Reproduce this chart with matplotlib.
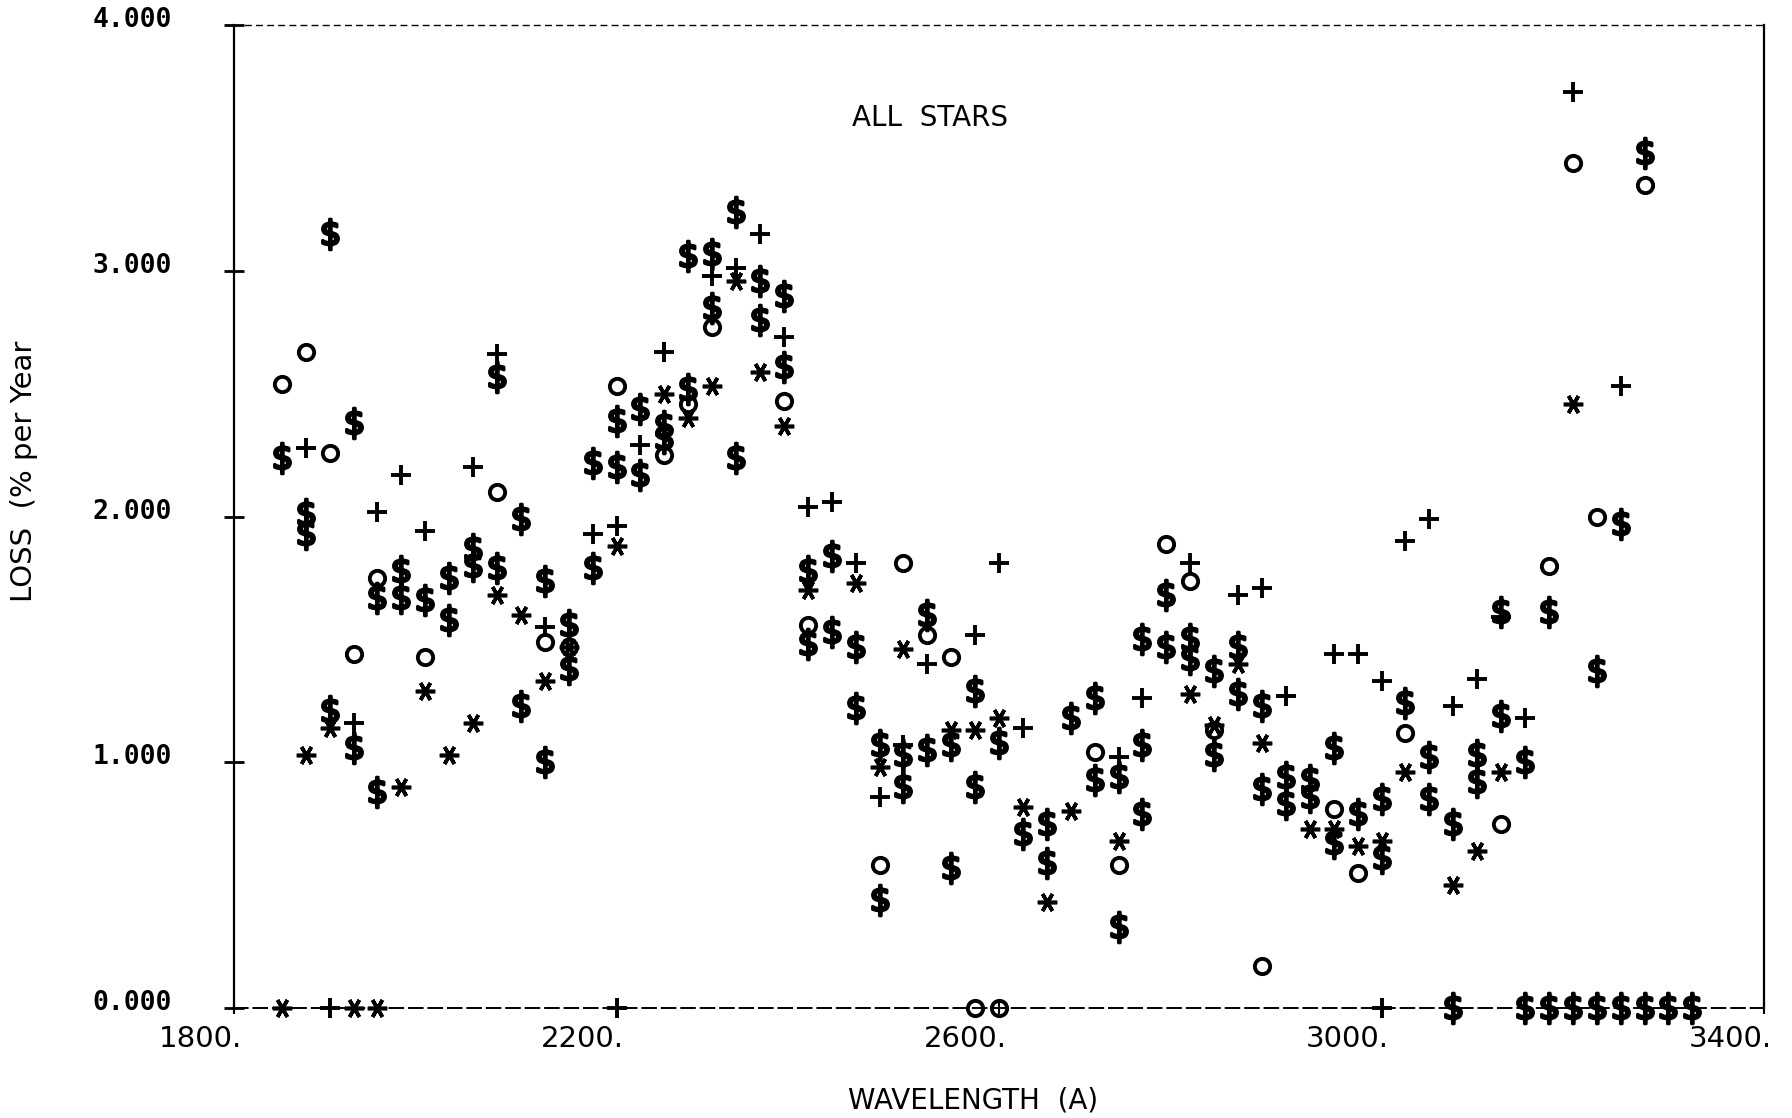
import matplotlib
matplotlib.use("Agg")
import matplotlib.pyplot as plt
from matplotlib.transforms import ScaledTranslation

# wavelength (A) / loss (% per year), one list per symbol
circ_x = [1850, 1875, 1900, 1925, 1950, 2000, 2075, 2125, 2150, 2200, 2250, 2275, 2300,
          2375, 2400, 2475, 2500, 2525, 2550, 2575, 2600, 2700, 2725, 2775, 2800, 2825,
          2875, 2950, 2975, 3025, 3125, 3175, 3200, 3225, 3275]
circ_y = [2.54, 2.67, 2.26, 1.44, 1.75, 1.43, 2.10, 1.49, 1.47, 2.53, 2.25, 2.46, 2.77,
          2.47, 1.56, 0.58, 1.81, 1.52, 1.43, 0.0, 0.0, 1.04, 0.58, 1.89, 1.74, 1.13,
          0.17, 0.81, 0.55, 1.12, 0.75, 1.80, 3.44, 2.00, 3.35]

plus_x = [1875, 1900, 1925, 1950, 1975, 2000, 2050, 2075, 2125, 2175, 2200, 2200, 2225,
          2250, 2300, 2325, 2350, 2375, 2400, 2425, 2450, 2475, 2500, 2525, 2575, 2600,
          2625, 2725, 2750, 2800, 2850, 2875, 2900, 2950, 2975, 3000, 3000, 3025, 3050,
          3075, 3100, 3125, 3150, 3200, 3250]
plus_y = [2.28, 0.0, 1.16, 2.02, 2.17, 1.94, 2.20, 2.66, 1.55, 1.93, 1.96, 0.0, 2.29,
          2.67, 2.98, 3.01, 3.15, 2.73, 2.04, 2.06, 1.81, 0.86, 1.07, 1.40, 1.52, 1.81,
          1.14, 1.02, 1.26, 1.81, 1.68, 1.71, 1.27, 1.44, 1.44, 1.33, 0.0, 1.90, 1.99,
          1.23, 1.34, 1.59, 1.18, 3.73, 2.53]

ast_x = [1850, 1875, 1900, 1925, 1950, 1975, 2000, 2025, 2050, 2075, 2100, 2125, 2150,
         2200, 2250, 2275, 2300, 2325, 2350, 2375, 2400, 2450, 2475, 2500, 2550, 2575,
         2600, 2625, 2650, 2675, 2725, 2800, 2825, 2850, 2875, 2925, 2950, 2975, 3000,
         3025, 3075, 3100, 3125, 3200]
ast_y = [0.0, 1.03, 1.14, 0.0, 0.0, 0.90, 1.29, 1.03, 1.16, 1.68, 1.60, 1.33, 1.47,
         1.88, 2.50, 2.40, 2.53, 2.96, 2.59, 2.37, 1.70, 1.73, 0.98, 1.46, 1.13, 1.13,
         1.18, 0.82, 0.43, 0.80, 0.68, 1.28, 1.15, 1.40, 1.08, 0.73, 0.73, 0.66, 0.68,
         0.96, 0.50, 0.64, 0.96, 2.46]

dol_x = [1850, 1875, 1875, 1900, 1900, 1925, 1925, 1950, 1950, 1975, 1975, 2000, 2025,
         2025, 2050, 2050, 2075, 2075, 2100, 2100, 2125, 2125, 2150, 2150, 2175, 2175,
         2200, 2200, 2225, 2225, 2250, 2250, 2275, 2275, 2300, 2300, 2325, 2325, 2350,
         2350, 2375, 2375, 2400, 2400, 2425, 2425, 2450, 2450, 2475, 2475, 2500, 2500,
         2525, 2525, 2550, 2550, 2575, 2575, 2600, 2625, 2650, 2650, 2675, 2700, 2700,
         2725, 2725, 2750, 2750, 2750, 2775, 2775, 2800, 2800, 2825, 2825, 2850, 2850,
         2875, 2875, 2900, 2900, 2925, 2925, 2950, 2950, 2975, 3000, 3000, 3025, 3050,
         3050, 3075, 3075, 3100, 3100, 3125, 3125, 3150, 3150, 3175, 3175, 3200, 3225,
         3225, 3250, 3250, 3275, 3275, 3300, 3325]
dol_y = [2.24, 2.01, 1.93, 3.15, 1.21, 2.38, 1.06, 1.67, 0.88, 1.78, 1.67, 1.66, 1.75,
         1.58, 1.87, 1.80, 2.57, 1.79, 1.99, 1.23, 1.74, 1.00, 1.56, 1.38, 2.22, 1.79,
         2.39, 2.20, 2.44, 2.17, 2.37, 2.32, 3.06, 2.52, 3.07, 2.85, 3.24, 2.24, 2.96,
         2.80, 2.90, 2.61, 1.78, 1.48, 1.84, 1.53, 1.47, 1.22, 1.07, 0.44, 1.03, 0.90,
         1.60, 1.05, 1.07, 0.57, 1.29, 0.90, 1.08, 0.71, 0.75, 0.59, 1.18, 1.26, 0.93,
         0.94, 0.33, 1.50, 1.07, 0.79, 1.68, 1.47, 1.50, 1.42, 1.37, 1.03, 1.47, 1.28,
         1.23, 0.89, 0.94, 0.83, 0.93, 0.86, 1.06, 0.67, 0.79, 0.85, 0.61, 1.24, 1.02,
         0.85, 0.75, 0.0, 1.03, 0.92, 1.61, 1.19, 1.00, 0.0, 1.61, 0.0, 0.0, 1.37,
         0.0, 1.97, 0.0, 3.48, 0.0, 0.0, 0.0]

x_ticks = [1800, 2200, 2600, 3000, 3400]
x_labels = ['1800.', '2200.', '2600.', '3000.', '3400.']
y_ticks = [0, 1, 2, 3, 4]
y_labels = ['0.000', '1.000', '2.000', '3.000', '4.000']

fig = plt.figure(figsize=(17.92, 11.18), dpi=100)
ax = fig.add_axes([0.1306, 0.0984, 0.8538, 0.879])
ax.set_xlim(1800, 3400)
ax.set_ylim(0, 4)

# printer symbols
ax.plot(circ_x, circ_y, ls='none', marker='o', ms=11, mfc='none', mec='black', mew=2.8, clip_on=False)
ax.plot(plus_x, plus_y, ls='none', marker='+', ms=15, mec='black', mew=2.8, clip_on=False)
ax.plot(ast_x, ast_y, ls='none', marker=(6, 2, 90), ms=14, mec='black', mew=2.6, clip_on=False)
ax.plot(dol_x, dol_y, ls='none', marker=r'$\$$', ms=22, mfc='black', mec='black', mew=2.2, clip_on=False)

# frame drawn like a pen plotter
ax.spines['left'].set_linestyle((0, (3, 1)))
ax.spines['left'].set_linewidth(1.6)
ax.spines['right'].set_linestyle((0, (3, 1)))
ax.spines['right'].set_linewidth(1.6)
ax.spines['top'].set_linestyle((0, (4, 4)))
ax.spines['top'].set_linewidth(1.0)
ax.spines['bottom'].set_linestyle((0, (7, 3)))
ax.spines['bottom'].set_linewidth(1.4)

ax.set_xticks(x_ticks)
ax.set_xticklabels(x_labels, family='DejaVu Sans', fontsize=21)
ax.set_yticks(y_ticks)
ax.set_yticklabels(y_labels, family='DejaVu Sans Mono', fontweight='bold', fontsize=19)
ax.tick_params(axis='y', direction='inout', length=14, width=2, pad=38)
ax.tick_params(axis='x', direction='inout', length=8, width=1.5, pad=8)

for lab in ax.get_xticklabels():
    lab.set_transform(lab.get_transform() + ScaledTranslation(-0.34, 0, fig.dpi_scale_trans))
for lab in ax.get_yticklabels():
    lab.set_transform(lab.get_transform() + ScaledTranslation(0, 0.08, fig.dpi_scale_trans))

ax.text(0.455, 0.906, 'ALL  STARS', transform=ax.transAxes, ha='center', va='center',
        fontsize=20, family='DejaVu Sans')
fig.text(0.543, 0.016, 'WAVELENGTH  (A)', ha='center', va='center', fontsize=20,
         family='DejaVu Sans')
fig.text(0.0135, 0.578, 'LOSS  (% per Year', rotation=90, ha='center', va='center', fontsize=21,
         family='DejaVu Sans')

fig.savefig('out.png', dpi=100)
